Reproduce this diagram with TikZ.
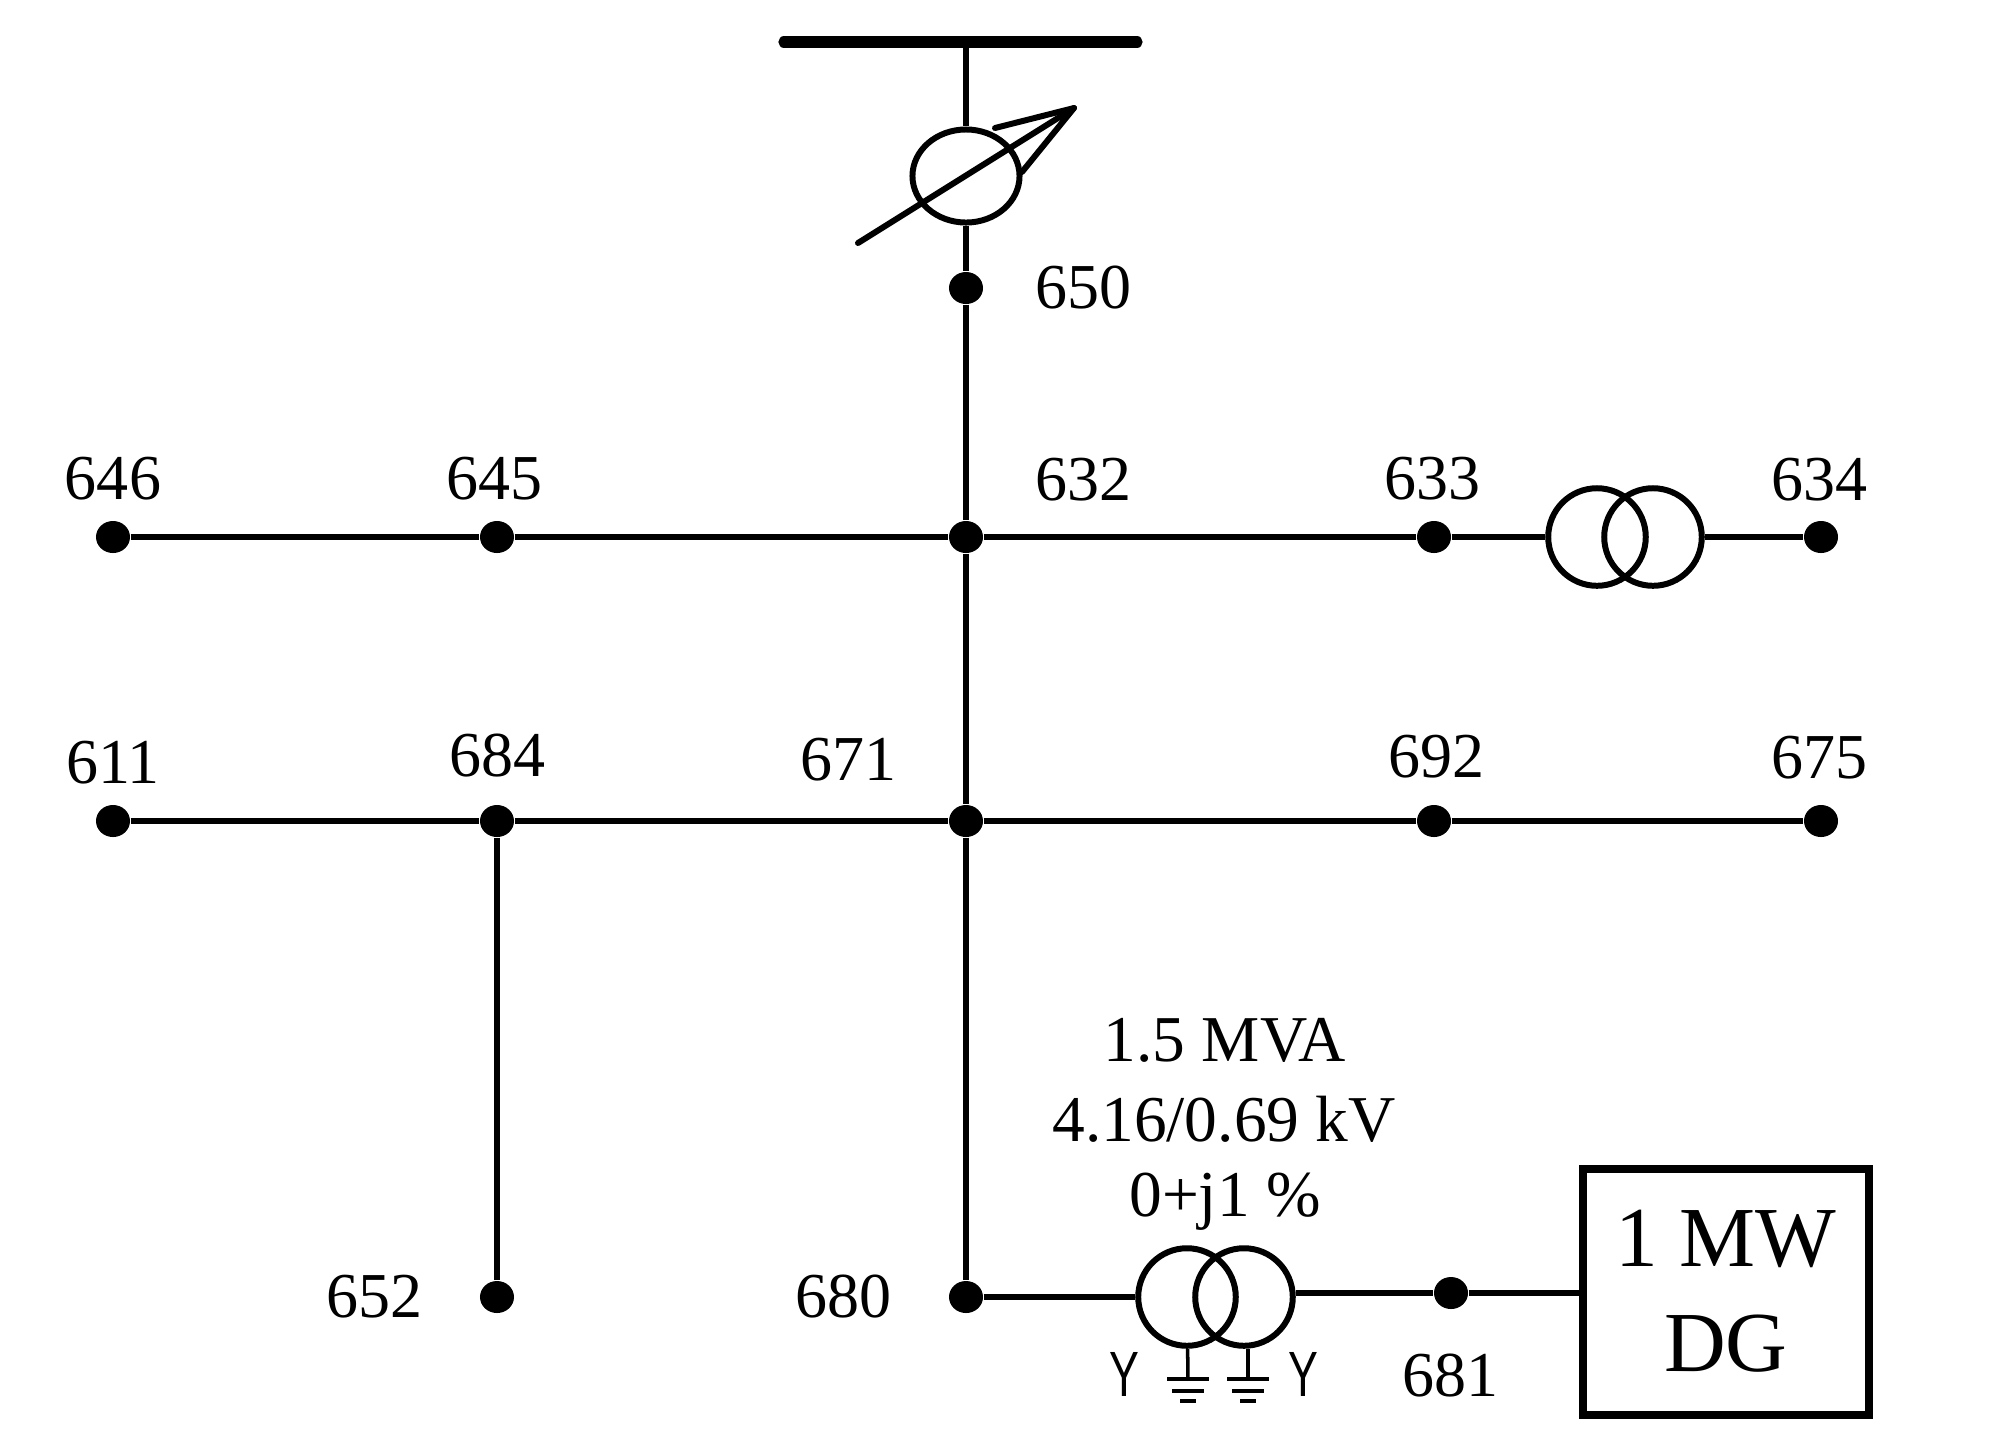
\documentclass[tikz,border=0pt]{standalone}
\usepackage{fontspec}
\setmainfont{Liberation Serif}
\setsansfont{Liberation Sans}
\usetikzlibrary{shapes.geometric}
\tikzset{
    busdot/.style={ellipse,fill=black,inner sep=0pt,minimum width=0.34cm,minimum height=0.32cm},
    buslabel/.style={inner sep=0pt,font=\fontsize{18.2}{20}\selectfont},
    ratinglabel/.style={inner sep=0pt,font=\fontsize{18.6}{20}\selectfont},
    dglabel/.style={inner sep=0pt,font=\fontsize{24.3}{24}\selectfont},
    wyelabel/.style={inner sep=0pt,font=\sffamily\fontsize{18.2}{20}\selectfont},
    trafo/.style={circle,draw=black,line width=1.7pt,inner sep=0pt,minimum size=0.975cm},
    wire/.style={line width=1.6pt},
    earthbar/.style={line width=1.1pt},
    dgbox/.style={rectangle,draw=black,line width=2.3pt,inner sep=0pt,minimum width=2.86cm,minimum height=2.45cm}
}
\begin{document}
\begin{tikzpicture}[x=0.01cm,y=-0.01cm]
    \useasboundingbox (0,0) rectangle (2011,1453);

    % source bar and regulator
    \coordinate (barleft) at (784,42);
    \coordinate (barright) at (1137,42);
    \coordinate (bartap) at (966,42);
    \draw[line width=3.2pt,line cap=round] (barleft) -- (barright);
    \node[ellipse,draw=black,line width=1.7pt,inner sep=0pt,minimum width=1.07cm,minimum height=0.93cm] (reg) at (966,176) {};
    \coordinate (regtail) at (858,243);
    \coordinate (regtip) at (1074,108);
    \coordinate (regbarba) at (995,128);
    \coordinate (regbarbb) at (1022,172);
    \draw[line width=1.7pt,line cap=round] (regtail) -- (regtip);
    \draw[line width=1.7pt,line cap=round,line join=round] (regbarba) -- (regtip) -- (regbarbb);

    % buses
    \node[busdot] (n650) at (966,288) {};
    \node[busdot] (n646) at (113,537) {};
    \node[busdot] (n645) at (497,537) {};
    \node[busdot] (n632) at (966,537) {};
    \node[busdot] (n633) at (1434,537) {};
    \node[busdot] (n634) at (1821,537) {};
    \node[busdot] (n611) at (113,821) {};
    \node[busdot] (n684) at (497,821) {};
    \node[busdot] (n671) at (966,821) {};
    \node[busdot] (n692) at (1434,821) {};
    \node[busdot] (n675) at (1821,821) {};
    \node[busdot] (n652) at (497,1297) {};
    \node[busdot] (n680) at (966,1297) {};
    \node[busdot] (n681) at (1451,1293) {};

    % transformers and DG
    \node[trafo] (taleft) at (1597,537) {};
    \node[trafo] (taright) at (1653,537) {};
    \node[trafo] (tbleft) at (1187,1297) {};
    \node[trafo] (tbright) at (1244,1297) {};
    \node[dgbox] (dg) at (1726,1292) {};

    % lines
    \draw[wire] (bartap) -- (reg);
    \draw[wire] (reg) -- (n650);
    \draw[wire] (n650) -- (n632);
    \draw[wire] (n632) -- (n671);
    \draw[wire] (n671) -- (n680);
    \draw[wire] (n646) -- (n645);
    \draw[wire] (n645) -- (n632);
    \draw[wire] (n632) -- (n633);
    \draw[wire] (n633) -- (taleft);
    \draw[wire] (taright) -- (n634);
    \draw[wire] (n611) -- (n684);
    \draw[wire] (n684) -- (n671);
    \draw[wire] (n671) -- (n692);
    \draw[wire] (n692) -- (n675);
    \draw[wire] (n684) -- (n652);
    \draw[wire] (n680) -- (tbleft);
    \draw[wire] (n681 -| tbright.east) -- (n681);
    \draw[wire] (n681) -- (n681 -| dg.west);

    % earths
    \coordinate (earthl) at (1188,1379);
    \coordinate (earthr) at (1248,1379);
    \draw[line width=1pt] (tbleft) -- (earthl);
    \draw[line width=1pt] (tbright.south -| earthr) -- (earthr);
    \draw[earthbar] ([shift={(-21,0)}]earthl) -- ([shift={(21,0)}]earthl);
    \draw[earthbar] ([shift={(-16,12)}]earthl) -- ([shift={(16,12)}]earthl);
    \draw[earthbar] ([shift={(-8,22)}]earthl) -- ([shift={(8,22)}]earthl);
    \draw[earthbar] ([shift={(-21,0)}]earthr) -- ([shift={(21,0)}]earthr);
    \draw[earthbar] ([shift={(-16,12)}]earthr) -- ([shift={(16,12)}]earthr);
    \draw[earthbar] ([shift={(-8,22)}]earthr) -- ([shift={(8,22)}]earthr);

    % labels
    \node[buslabel] (l650) at (1083,288) {650};
    \node[buslabel] (l646) at (113,479) {646};
    \node[buslabel] (l645) at (494,479) {645};
    \node[buslabel] (l632) at (1083,480) {632};
    \node[buslabel] (l633) at (1432,479) {633};
    \node[buslabel] (l634) at (1819,480) {634};
    \node[buslabel] (l611) at (113,763) {611};
    \node[buslabel] (l684) at (497,756) {684};
    \node[buslabel] (l671) at (848,760) {671};
    \node[buslabel] (l692) at (1436,757) {692};
    \node[buslabel] (l675) at (1819,758) {675};
    \node[buslabel] (l652) at (374,1297) {652};
    \node[buslabel] (l680) at (843,1297) {680};
    \node[buslabel] (l681) at (1450,1376) {681};
    \node[ratinglabel] (lrating) at (1225,1040) {1.5 MVA};
    \node[ratinglabel] (lvolt) at (1224,1119) {4.16/0.69 kV};
    \node[ratinglabel] (limp) at (1225,1202) {0+j1 \%};
    \node[wyelabel] (lyl) at (1124,1374) {\scalebox{0.7}[1]{Y}};
    \node[wyelabel] (lyr) at (1303,1374) {\scalebox{0.7}[1]{Y}};
    \node[dglabel] (lmw) at (1726,1239) {1 MW};
    \node[dglabel] (ldg) at (1726,1344) {DG};
\end{tikzpicture}
\end{document}
